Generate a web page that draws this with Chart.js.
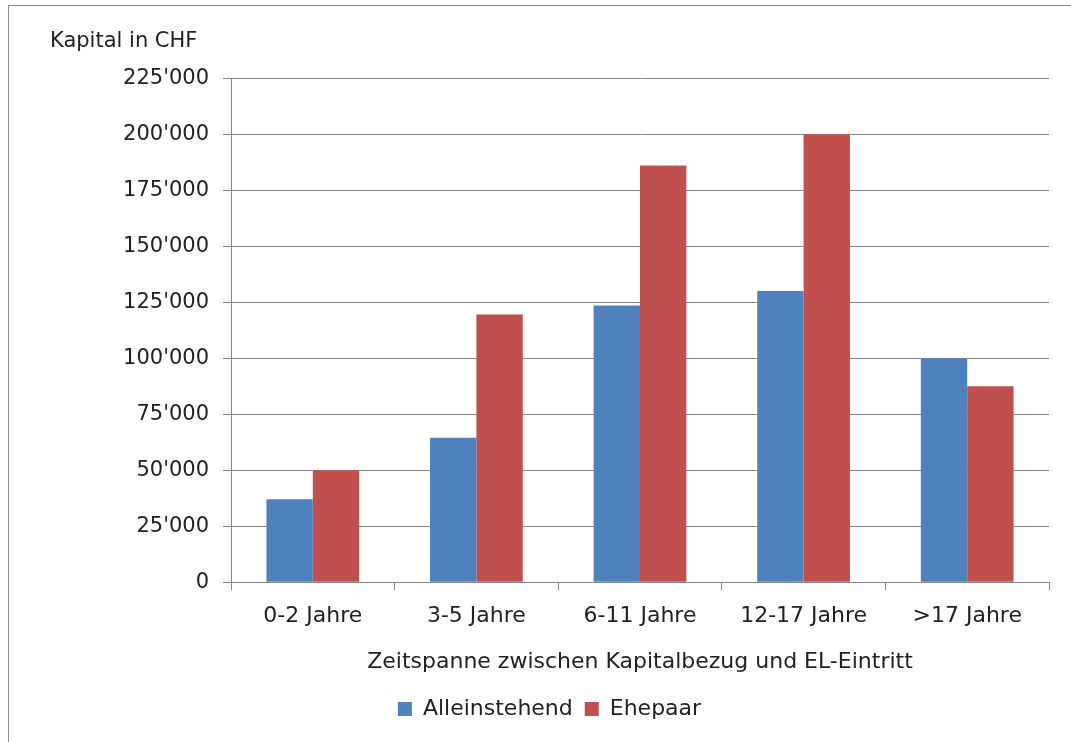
<!DOCTYPE html>
<html>
<head>
<meta charset="utf-8">
<script src="https://cdn.jsdelivr.net/npm/chart.js@4/dist/chart.umd.min.js"></script>
<style>
  body { margin: 0; background: #fff; }
  #frame { position: absolute; left: 8px; top: 5px; width: 1100px; height: 800px; border: 1px solid #8c8c8c; }
  #wrap { position: absolute; left: 0; top: 0; width: 1071px; height: 742px; }
</style>
</head>
<body>
<div id="frame"></div>
<div id="wrap"><canvas id="kapitalChart"></canvas></div>
<script>
// Daten
const kategorien = ['0-2 Jahre', '3-5 Jahre', '6-11 Jahre', '12-17 Jahre', '>17 Jahre'];
const alleinstehend = [37000, 64500, 123500, 130000, 100000];
const ehepaar = [50000, 119500, 186000, 200000, 87500];
const yMax = 225000;
const yStep = 25000;

const schrift = "'DejaVu Sans', sans-serif";
const grau = '#878787';

// 225000 -> 225'000
function formatCHF(v) {
    return String(v).replace(/\B(?=(\d{3})+(?!\d))/g, "'");
}

const ctx = document.getElementById('kapitalChart').getContext('2d');
const kapitalChart = new Chart(ctx, {
    type: 'bar',
    data: {
        labels: kategorien,
        datasets: [{
            label: 'Alleinstehend',
            data: alleinstehend,
            backgroundColor: '#4f81bd'
        }, {
            label: 'Ehepaar',
            data: ehepaar,
            backgroundColor: '#c0504d'
        }]
    },
    options: {
        responsive: true,
        maintainAspectRatio: false,
        animation: false,
        layout: {
            padding: { left: 50, right: 22, bottom: 12 }
        },
        datasets: {
            bar: { categoryPercentage: 0.567, barPercentage: 1 }
        },
        plugins: {
            title: {
                display: true,
                text: 'Kapital in CHF',
                align: 'start',
                color: '#222',
                font: { family: schrift, size: 21, weight: 'normal' },
                padding: { top: 29, bottom: 24 }
            },
            legend: {
                position: 'bottom',
                labels: {
                    color: '#222',
                    boxWidth: 14,
                    boxHeight: 14,
                    padding: 12,
                    font: { family: schrift, size: 22 }
                }
            },
            tooltip: { enabled: false }
        },
        scales: {
            x: {
                grid: { drawOnChartArea: false, offset: true, tickLength: 8, color: grau },
                border: { color: grau },
                ticks: { color: '#222', padding: 13, font: { family: schrift, size: 22 } },
                title: {
                    display: true,
                    text: 'Zeitspanne zwischen Kapitalbezug und EL-Eintritt',
                    color: '#222',
                    font: { family: schrift, size: 22 },
                    padding: { top: 6, bottom: 11 }
                }
            },
            y: {
                min: 0,
                max: yMax,
                afterFit: function (scale) { scale.width = 181; },
                grid: { tickLength: 8, color: grau },
                border: { color: grau },
                ticks: {
                    stepSize: yStep,
                    color: '#222',
                    padding: 14,
                    font: { family: schrift, size: 21 },
                    callback: function (v) { return formatCHF(v); }
                }
            }
        }
    }
});
</script>
</body>
</html>
